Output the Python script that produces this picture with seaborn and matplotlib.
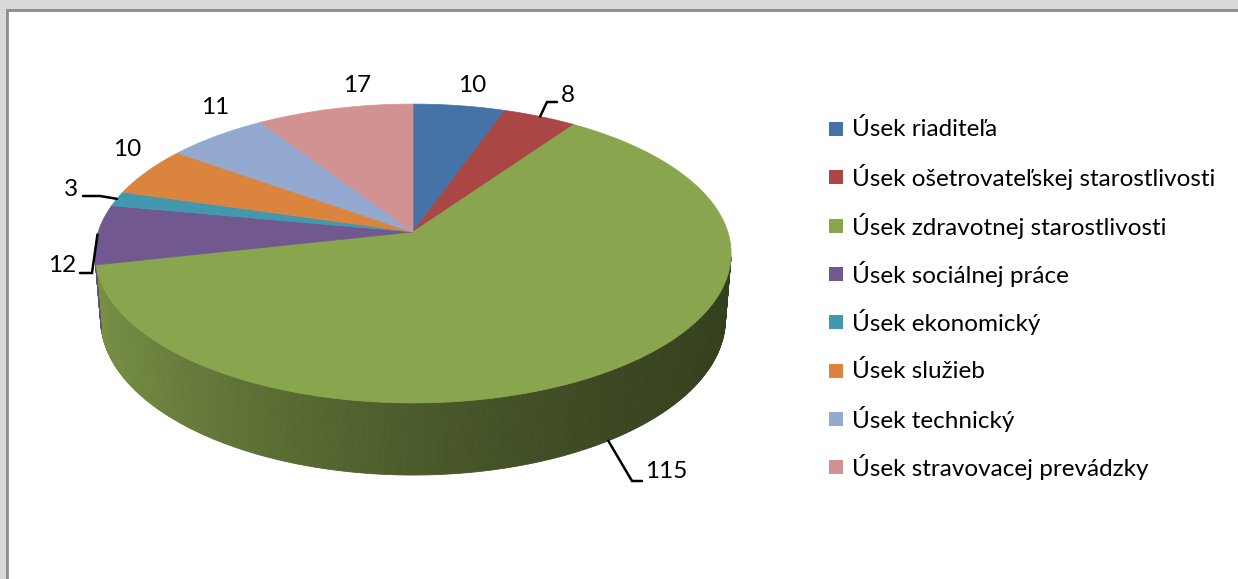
import numpy as np
import matplotlib
matplotlib.use("Agg")
import matplotlib.pyplot as plt
from matplotlib.patches import Polygon, Rectangle
import seaborn as sns

# Data
categories = [
    "Úsek riaditeľa",
    "Úsek ošetrovateľskej starostlivosti",
    "Úsek zdravotnej starostlivosti",
    "Úsek sociálnej práce",
    "Úsek ekonomický",
    "Úsek služieb",
    "Úsek technický",
    "Úsek stravovacej prevádzky",
]
values = [10, 8, 115, 12, 3, 10, 11, 17]
slice_colors = ["#4572A7", "#AA4643", "#89A54E", "#71588F",
                "#4198AF", "#DB843D", "#93A9CF", "#D19392"]

# Layout (pixel space of the figure)
W, H = 1238, 579
CX, CY = 413, 232          # apex of the pie on screen
SCALE, DIST = 1936, 6.15   # perspective projection
ELEV = np.radians(27.7)
DEPTH = 0.237              # thickness of the pie (in radii)
LABEL_POS = [(472, 85), (568, 96), (666, 471), (62, 266),
             (71, 189), (127, 150), (215, 108), (357, 86)]
LEADERS = {1: [(547, 102), (557, 102)],
           2: [(632, 481), (642, 481)],
           3: [(92, 273), (80, 273)],
           4: [(100, 196), (83, 196)]}
FONT = ["Lato", "DejaVu Sans"]
FS = 17.5


def project(theta, r=1.0, y=0.0):
    """theta in degrees, clockwise from the back (top of the screen)."""
    t = np.radians(theta)
    X = r * np.sin(t)
    Z = -r * np.cos(t)
    c, s = np.cos(ELEV), np.sin(ELEV)
    den = DIST - (y * s + Z * c)
    return CX + SCALE * X / den, CY - SCALE * (y * c - Z * s) / den


def side_shade(x_unit):
    # light comes from the left
    return 0.55 - 0.255 * x_unit + 0.085 * x_unit ** 2


sns.set_theme(style="white")
plt.rcParams["font.family"] = FONT

fig = plt.figure(figsize=(W / 100, H / 100), dpi=100, facecolor="#D9D9D9")
ax = fig.add_axes([0, 0, 1, 1])
ax.set_xlim(0, W)
ax.set_ylim(H, 0)
ax.axis("off")

# white panel with grey frame
ax.add_patch(Rectangle((7, 10), W, H, facecolor="white",
                       edgecolor="#8C8C8C", lw=2, zorder=0))

colors = sns.color_palette(slice_colors)
bounds = np.concatenate([[0], np.cumsum(values)]) / sum(values) * 360
front_limit = 1.0 / (DIST * np.cos(ELEV))

# side wall, drawn in thin strips
for i in range(len(values)):
    a0, a1 = bounds[i], bounds[i + 1]
    steps = np.linspace(a0, a1, max(int((a1 - a0) / 0.5), 2))
    for t0, t1 in zip(steps[:-1], steps[1:]):
        tm = (t0 + t1) / 2
        if -np.cos(np.radians(tm)) <= front_limit - 0.02:
            continue
        xa, ya = project(t0)
        xb, yb = project(t1)
        xc, yc = project(t1, y=-DEPTH)
        xd, yd = project(t0, y=-DEPTH)
        f = side_shade(np.sin(np.radians(tm)))
        col = tuple(np.clip(np.array(colors[i]) * f, 0, 1))
        ax.add_patch(Polygon([(xa, ya), (xb, yb), (xc, yc), (xd, yd)],
                             closed=True, facecolor=col, edgecolor=col,
                             lw=0.6, zorder=1))

# top face
for i in range(len(values)):
    a0, a1 = bounds[i], bounds[i + 1]
    th = np.linspace(a0, a1, max(int((a1 - a0) * 2), 3))
    px, py = project(th)
    pts = [(CX, CY)] + list(zip(px, py))
    ax.add_patch(Polygon(pts, closed=True, facecolor=colors[i],
                         edgecolor=colors[i], lw=0.5, zorder=2))

# data labels and leader lines
for i, v in enumerate(values):
    lx, ly = LABEL_POS[i]
    ax.text(lx, ly, str(v), ha="center", va="center", fontsize=FS,
            color="black", zorder=4)
    if i in LEADERS:
        mid = (bounds[i] + bounds[i + 1]) / 2
        front = -np.cos(np.radians(mid)) > front_limit
        sx, sy = project(mid, y=-DEPTH if front else 0.0)
        path = [(sx, sy)] + LEADERS[i]
        ax.plot([p[0] for p in path], [p[1] for p in path],
                color="black", lw=1.8, zorder=3, solid_joinstyle="miter")

# legend
for i, name in enumerate(categories):
    y = 129 + i * 48.3
    ax.add_patch(Rectangle((829, y - 7), 14, 14, facecolor=colors[i],
                           edgecolor="none", zorder=3))
    ax.text(852, y, name, ha="left", va="center", fontsize=FS,
            color="black", zorder=3)

fig.savefig("out.png", dpi=100, facecolor=fig.get_facecolor())
